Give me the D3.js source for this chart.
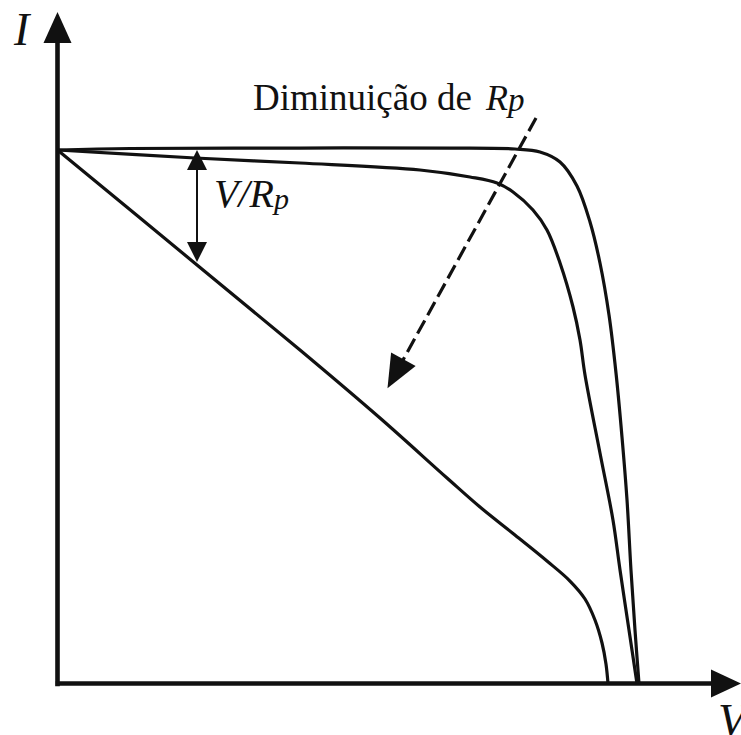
<!DOCTYPE html>
<html>
<head>
<meta charset="utf-8">
<script src="https://cdn.jsdelivr.net/npm/d3@7"></script>
<style>
  html, body { margin: 0; padding: 0; background: #fff; }
  svg { display: block; }
</style>
</head>
<body>
<svg id="chart" width="741" height="735"></svg>
<script>
// I–V curves of a solar cell for decreasing parallel resistance Rp
// (normalised: V / Voc on x, I / Isc on y)

const curveHighRp = [
  [0, 1.0], [0.1245, 1.0028], [0.4163, 1.0037], [0.6738, 1.0037], [0.7854, 1.0019],
  [0.8283, 0.9963], [0.8627, 0.9775], [0.8918, 0.9325], [0.9142, 0.8650],
  [0.9313, 0.7882], [0.9468, 0.6907], [0.9588, 0.5820], [0.9691, 0.4620],
  [0.9777, 0.3440], [0.9845, 0.2127], [0.9914, 0.1003], [0.9983, 0]
];

const curveMidRp = [
  [0, 1.0], [0.2361, 0.9850], [0.4163, 0.9756], [0.6223, 0.9625], [0.7082, 0.9494],
  [0.7545, 0.9381], [0.7820, 0.9213], [0.8163, 0.8875], [0.8403, 0.8500],
  [0.8627, 0.7882], [0.8850, 0.7057], [0.8970, 0.6439], [0.9056, 0.5782],
  [0.9313, 0.4320], [0.9536, 0.3065], [0.9657, 0.2128], [0.9811, 0.1003], [0.9948, 0]
];

const curveLowRp = [
  [0, 1.0], [0.2395, 0.7845], [0.4163, 0.6251], [0.5536, 0.4976], [0.6687, 0.3852],
  [0.7253, 0.3308], [0.7820, 0.2812], [0.8403, 0.2296], [0.8798, 0.1921],
  [0.9056, 0.1584], [0.9227, 0.1190], [0.9348, 0.0759], [0.9416, 0.0366], [0.9451, 0]
];

// V/Rp leakage marker: voltage and the two current levels it spans
const leakageV = 0.2395;
const leakageI = [1.0, 0.79];

// "decreasing Rp" trend arrow: start and tip (V, I)
const trendArrow = [[0.8215, 1.0600], [0.5665, 0.5534]];

// axis extents (arrow tips)
const vAxisEnd = 1.1734;
const iAxisEnd = 1.2587;

const serif = "'Liberation Serif', 'Times New Roman', Times, serif";

const svg = d3.select("#chart");

const x = d3.scaleLinear().domain([0, 1]).range([57.5, 640]);
const y = d3.scaleLinear().domain([0, 1]).range([683.5, 150]);

// arrowhead triangle pointing from (fx,fy) toward the tip (tx,ty)
function headPath(fx, fy, tx, ty, len, halfW) {
  const dx = tx - fx, dy = ty - fy;
  const d = Math.hypot(dx, dy);
  const ux = dx / d, uy = dy / d;
  const bx = tx - ux * len, by = ty - uy * len;
  const px = -uy * halfW, py = ux * halfW;
  return `M${tx},${ty}L${bx + px},${by + py}L${bx - px},${by - py}Z`;
}

// ---- axes ----
const axisHead = 30, axisHalf = 14;
const xAxisScale = d3.scaleLinear()
  .domain([0, vAxisEnd])
  .range([x(0), x(vAxisEnd) - axisHead * 0.6]);
const yAxisScale = d3.scaleLinear()
  .domain([0, iAxisEnd])
  .range([y(0), y(iAxisEnd) + axisHead * 0.6]);

const gx = svg.append("g")
  .attr("transform", `translate(0,${y(0) - 0.5})`)
  .call(d3.axisBottom(xAxisScale).tickValues([]).tickSizeOuter(0));
const gy = svg.append("g")
  .attr("transform", `translate(${x(0) - 0.5},0)`)
  .call(d3.axisLeft(yAxisScale).tickValues([]).tickSizeOuter(0));
[gx, gy].forEach(g => g.select(".domain")
  .attr("stroke", "#111")
  .attr("stroke-width", 4.6)
  .attr("stroke-linecap", "square"));

svg.append("path")
  .attr("d", headPath(x(0), y(0), x(vAxisEnd), y(0), axisHead, axisHalf))
  .attr("fill", "#111");
svg.append("path")
  .attr("d", headPath(x(0), y(0), x(0), y(iAxisEnd), axisHead + 1, axisHalf))
  .attr("fill", "#111");

// ---- I–V curves ----
const line = d3.line()
  .x(d => x(d[0]))
  .y(d => y(d[1]))
  .curve(d3.curveCatmullRom.alpha(0.5));

svg.append("g")
  .selectAll("path")
  .data([curveHighRp, curveMidRp, curveLowRp])
  .join("path")
  .attr("d", line)
  .attr("fill", "none")
  .attr("stroke", "#111")
  .attr("stroke-width", 3.2)
  .attr("stroke-linejoin", "round");

// ---- V/Rp double arrow ----
const lx = x(leakageV);
const ly0 = y(leakageI[0]), ly1 = y(leakageI[1]);
const smallHead = 20, smallHalf = 10;
svg.append("line")
  .attr("x1", lx).attr("x2", lx)
  .attr("y1", ly0 + smallHead - 2).attr("y2", ly1 - smallHead + 2)
  .attr("stroke", "#111").attr("stroke-width", 2);
svg.append("path")
  .attr("d", headPath(lx, ly1, lx, ly0, smallHead, smallHalf))
  .attr("fill", "#111");
svg.append("path")
  .attr("d", headPath(lx, ly0, lx, ly1, smallHead, smallHalf))
  .attr("fill", "#111");

// ---- dashed "decreasing Rp" arrow ----
const ax0 = x(trendArrow[0][0]), ay0 = y(trendArrow[0][1]);
const ax1 = x(trendArrow[1][0]), ay1 = y(trendArrow[1][1]);
const bigHead = 33, bigHalf = 14;
const ad = Math.hypot(ax1 - ax0, ay1 - ay0);
svg.append("line")
  .attr("x1", ax0).attr("y1", ay0)
  .attr("x2", ax1 - (ax1 - ax0) / ad * (bigHead - 4))
  .attr("y2", ay1 - (ay1 - ay0) / ad * (bigHead - 4))
  .attr("stroke", "#111")
  .attr("stroke-width", 3.2)
  .attr("stroke-dasharray", "15,6");
svg.append("path")
  .attr("d", headPath(ax0, ay0, ax1, ay1, bigHead, bigHalf))
  .attr("fill", "#111");

// ---- labels ----
function label(xp, yp, size, italic) {
  return svg.append("text")
    .attr("x", xp).attr("y", yp)
    .attr("font-family", serif)
    .attr("font-size", size)
    .attr("font-style", italic ? "italic" : "normal")
    .attr("fill", "#111");
}

label(14, 45, 46, true).text("I");
label(718, 736, 46, true).text("V");

label(253, 110, 37, false).text("Diminuição de");
const rp = label(486, 110, 36, true);
rp.append("tspan").text("R");
rp.append("tspan").attr("font-size", 33).attr("dy", 1).text("p");

const t2 = label(214, 207, 40, true);
t2.append("tspan").text("V/R");
t2.append("tspan").attr("font-size", 30).attr("dy", 2).text("p");
</script>
</body>
</html>
